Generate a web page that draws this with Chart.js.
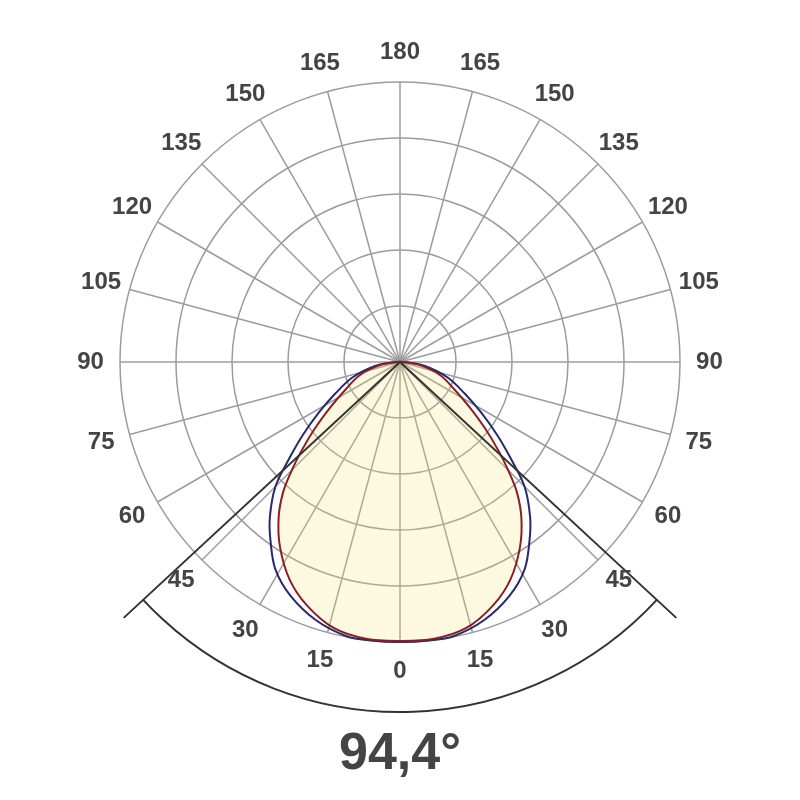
<!DOCTYPE html>
<html>
<head>
<meta charset="utf-8">
<script src="https://cdn.jsdelivr.net/npm/chart.js@4"></script>
<style>
  html, body { margin: 0; padding: 0; background: #fff; }
</style>
</head>
<body>
<canvas id="myChart" width="800" height="800"></canvas>
<script>
// Measured angles (degrees, 0 = straight down, + = right side) and intensity in % of the outer ring
const redGamma = [-90, -81, -72, -63, -57, -52, -48, -45, -42, -38, -33, -27, -21, -14, -7,
  0, 7, 14, 21, 27, 33, 38, 42, 45, 48, 52, 57, 63, 72, 81, 90];
const redValues = [0.7, 7.2, 15.0, 22.0, 29.6, 38.6, 47.3, 54.6, 62.3, 70.4, 78.7, 87.0, 93.0, 97.9, 99.6,
  99.6, 99.6, 97.9, 93.0, 87.0, 78.7, 70.4, 62.3, 54.6, 47.3, 38.6, 29.6, 22.0, 15.0, 7.2, 0.7];

const blueGamma = [-90, -81, -72, -64, -58, -53, -49, -45, -40, -36, -31, -25, -18, -11, -6,
  0, 6, 11, 18, 25, 31, 36, 40, 45, 49, 53, 58, 64, 72, 81, 90];
const blueValues = [1.4, 9.0, 17.9, 25.7, 34.3, 43.6, 52.3, 62.9, 72.3, 78.7, 86.4, 92.3, 97.0, 99.8, 100,
  100, 100, 99.8, 97.0, 92.3, 86.4, 78.7, 72.3, 62.9, 52.3, 43.6, 34.3, 25.7, 17.9, 9.0, 1.4];

// Labels round the circle, clockwise from the top, every 15 degrees
const tickLabels = ['180', '165', '150', '135', '120', '105', '90', '75', '60', '45', '30', '15',
  '0', '15', '30', '45', '60', '75', '90', '105', '120', '135', '150', '165'];

const beamAngle = 94.4;

// radar slots every degree, a label on every 15th one
const slotCount = 360;
const labels = [];
for (let i = 0; i < slotCount; i++) {
  labels.push(i % 15 === 0 ? tickLabels[i / 15] : '');
}

function toSlots(gamma, values) {
  const out = new Array(slotCount).fill(null);
  for (let k = 0; k < gamma.length; k++) {
    out[(180 - gamma[k] + slotCount) % slotCount] = values[k];
  }
  return out;
}

// beam angle lines and arc, angle labels centred on their spoke
const beamPlugin = {
  id: 'beam',
  afterDatasetsDraw(chart) {
    const s = chart.scales.r;
    const ctx = chart.ctx;
    const half = beamAngle / 2 * Math.PI / 180;
    const R = s.drawingArea;
    ctx.save();
    ctx.strokeStyle = '#333';
    ctx.lineWidth = 2;
    [-1, 1].forEach(function (sign) {
      const a = sign * half;
      ctx.beginPath();
      ctx.moveTo(s.xCenter, s.yCenter);
      ctx.lineTo(s.xCenter + Math.sin(a) * R * 1.345, s.yCenter + Math.cos(a) * R * 1.345);
      ctx.stroke();
    });
    ctx.beginPath();
    ctx.arc(s.xCenter, s.yCenter, R * 1.25, Math.PI / 2 - half, Math.PI / 2 + half);
    ctx.stroke();

    ctx.fillStyle = '#444';
    ctx.font = 'bold 24px "Liberation Sans"';
    ctx.textAlign = 'center';
    ctx.textBaseline = 'middle';
    for (let i = 0; i < labels.length; i++) {
      if (!labels[i]) continue;
      const p = s.getPointPosition(i, R * 1.105);
      ctx.fillText(labels[i], p.x, p.y);
    }
    ctx.restore();
  }
};

const ctx = document.getElementById('myChart');

new Chart(ctx, {
  type: 'radar',
  data: {
    labels: labels,
    datasets: [{
      label: 'C0-C180',
      data: toSlots(redGamma, redValues),
      borderColor: '#8b1e24',
      borderWidth: 2,
      backgroundColor: 'rgba(246, 228, 120, 0.22)',
      fill: true,
      spanGaps: true,
      tension: 0.35,
      pointRadius: 0
    }, {
      label: 'C90-C270',
      data: toSlots(blueGamma, blueValues),
      borderColor: '#262a6b',
      borderWidth: 2,
      fill: false,
      spanGaps: true,
      tension: 0.35,
      pointRadius: 0
    }]
  },
  options: {
    responsive: false,
    animation: false,
    layout: { padding: { top: 82, bottom: 14.6, left: 0, right: 0 } },
    plugins: {
      legend: { display: false },
      tooltip: { enabled: false },
      title: {
        display: true,
        position: 'bottom',
        text: beamAngle.toFixed(1).replace('.', ',') + '°',
        color: '#444',
        font: { family: 'Liberation Sans', size: 52, weight: 'bold' },
        padding: { top: 81, bottom: 0 }
      }
    },
    scales: {
      r: {
        min: 0,
        max: 100,
        ticks: { display: false, stepSize: 20 },
        grid: { circular: true, color: '#9c9c9c', lineWidth: 1.5 },
        angleLines: {
          color: '#9c9c9c',
          lineWidth: function (c) { return c.index % 15 === 0 ? 1.5 : 0; }
        },
        pointLabels: { display: false }
      }
    }
  },
  plugins: [beamPlugin]
});
</script>
</body>
</html>
